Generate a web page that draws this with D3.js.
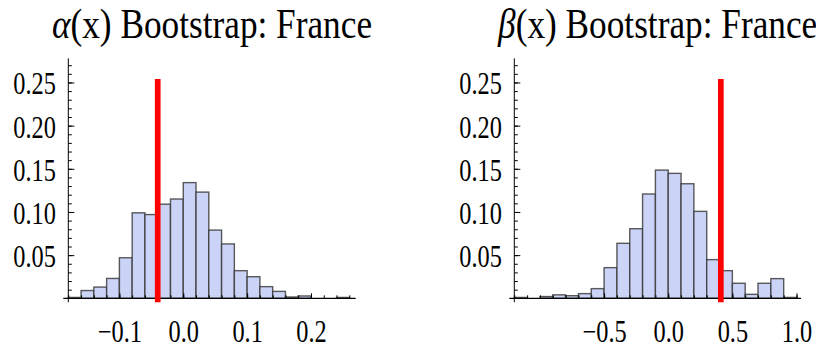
<!DOCTYPE html>
<html>
<head>
<meta charset="utf-8">
<script src="https://cdn.jsdelivr.net/npm/d3@7"></script>
<style>
  body { margin: 0; background: #fff; }
  svg text { font-family: "Liberation Serif", "Times New Roman", serif; fill: #000; }
</style>
</head>
<body>
<div id="chart"></div>
<script>
// bin heights (share of bootstrap samples)
const alphaBinStart = -0.18;
const alphaBinWidth = 0.02;
const alphaFreq = [0.001, 0.009, 0.013, 0.023, 0.047, 0.099, 0.097, 0.109, 0.115, 0.134, 0.123,
                   0.079, 0.063, 0.032, 0.025, 0.0135, 0.008, 0.0015, 0.0027, 0, 0, 0.001];
const alphaEstimate = -0.04;
const alphaTicks = [-0.1, 0.0, 0.1, 0.2];

const betaBinStart = -1.2;
const betaBinWidth = 0.1;
const betaFreq = [0.001, 0, 0.002, 0.004, 0.003, 0.0054, 0.0112, 0.0355, 0.0637, 0.0806, 0.1208,
                  0.1485, 0.1447, 0.1327, 0.1007, 0.0448, 0.032, 0.0174, 0.0046, 0.0174, 0.0228, 0.001];
const betaEstimate = 0.41;
const betaTicks = [-0.5, 0.0, 0.5, 1.0];

const yTicks = [0.05, 0.10, 0.15, 0.20, 0.25];

const svg = d3.select("#chart").append("svg")
  .attr("width", 816)
  .attr("height", 348);

class Histogram {
  constructor(config) {
    this.config = config;
    this.g = svg.append("g");
    this.xScale = d3.scaleLinear().domain(config.xDomain).range([config.left, config.right]);
    this.yScale = d3.scaleLinear().domain([0, 0.278]).range([config.bottom, config.top]);
  }

  squeeze(sel, sx) {
    // the source glyphs are taller and narrower than plain Times
    sel.attr("transform", `scale(${sx},1)`);
  }

  draw() {
    const c = this.config, x = this.xScale, y = this.yScale;
    const bins = c.freq.map((f, i) => ({
      x0: c.binStart + i * c.binWidth,
      x1: c.binStart + (i + 1) * c.binWidth,
      f: f
    })).filter(d => d.f > 0);

    this.g.append("g")
      .selectAll("rect")
      .data(bins)
      .join("rect")
      .attr("x", d => x(d.x0))
      .attr("width", d => x(d.x1) - x(d.x0))
      .attr("y", d => y(d.f))
      .attr("height", d => y(0) - y(d.f))
      .attr("fill", "#cbd3f6")
      .attr("stroke", "#333")
      .attr("stroke-opacity", 0.8)
      .attr("stroke-width", 1.4);

    // axis lines
    this.g.append("line")
      .attr("x1", x(c.xDomain[0]) - 5).attr("x2", x(c.xDomain[1]))
      .attr("y1", y(0)).attr("y2", y(0))
      .attr("stroke", "#000").attr("stroke-width", 1.2);
    this.g.append("line")
      .attr("x1", x(c.xDomain[0])).attr("x2", x(c.xDomain[0]))
      .attr("y1", y(0) + 4).attr("y2", y(0.278))
      .attr("stroke", "#000").attr("stroke-width", 1);

    const sx = 0.785, fs = 31;

    // y axis: major + minor ticks pointing inwards
    const yMinor = this.g.append("g")
      .attr("transform", `translate(${x(c.xDomain[0])},0)`)
      .call(d3.axisLeft(y).tickValues(d3.range(0.01, 0.275, 0.01)).tickSize(-3.5).tickFormat(""));
    const yAxis = this.g.append("g")
      .attr("transform", `translate(${x(c.xDomain[0])},0)`)
      .call(d3.axisLeft(y).tickValues(yTicks).tickSize(-6).tickPadding(12.5).tickFormat(d3.format(".2f")));
    [yMinor, yAxis].forEach(a => a.select(".domain").remove());
    yAxis.attr("font-size", fs).attr("font-family", null);
    yAxis.selectAll("text")
      .attr("x", -12.5 / sx)
      .attr("dy", "0.37em")
      .call(s => this.squeeze(s, sx));

    // x axis: ticks pointing up
    const xMinor = this.g.append("g")
      .attr("transform", `translate(0,${y(0)})`)
      .call(d3.axisBottom(x).tickValues(d3.range(c.binStart, c.binStart + c.binWidth * (c.freq.length + 0.5), c.binWidth)).tickSize(-3).tickFormat(""));
    const xAxis = this.g.append("g")
      .attr("transform", `translate(0,${y(0)})`)
      .call(d3.axisBottom(x).tickValues(c.ticks).tickSize(-5).tickFormat(d3.format(".1f")));
    [xMinor, xAxis].forEach(a => a.select(".domain").remove());
    xAxis.attr("font-size", fs).attr("font-family", null);
    xAxis.selectAll("text")
      .attr("y", 44.2)
      .attr("dy", null)
      .attr("x", 0)
      .call(s => this.squeeze(s, sx));

    // observed estimate
    this.g.append("line")
      .attr("x1", x(c.estimate)).attr("x2", x(c.estimate))
      .attr("y1", y(-0.0045)).attr("y2", y(0.254))
      .attr("stroke", "#ff0000")
      .attr("stroke-width", 5.7);

    // title
    const cx = (x(c.xDomain[0]) + x(c.xDomain[1])) / 2;
    const t = this.g.append("text")
      .attr("text-anchor", "middle")
      .attr("font-size", 42)
      .attr("transform", `translate(${cx},38) scale(0.84,1)`);
    t.append("tspan").attr("font-style", "italic").text(c.greek);
    t.append("tspan").text("(x) Bootstrap: France");
  }
}

new Histogram({
  left: 68.3, right: 355.7, top: 58.3, bottom: 298.3,
  xDomain: [-0.18, 0.27],
  binStart: alphaBinStart, binWidth: alphaBinWidth, freq: alphaFreq,
  estimate: alphaEstimate, ticks: alphaTicks, greek: "α"
}).draw();

new Histogram({
  left: 514.3, right: 801, top: 58.3, bottom: 298.3,
  xDomain: [-1.2, 1.035],
  binStart: betaBinStart, binWidth: betaBinWidth, freq: betaFreq,
  estimate: betaEstimate, ticks: betaTicks, greek: "β"
}).draw();
</script>
</body>
</html>
